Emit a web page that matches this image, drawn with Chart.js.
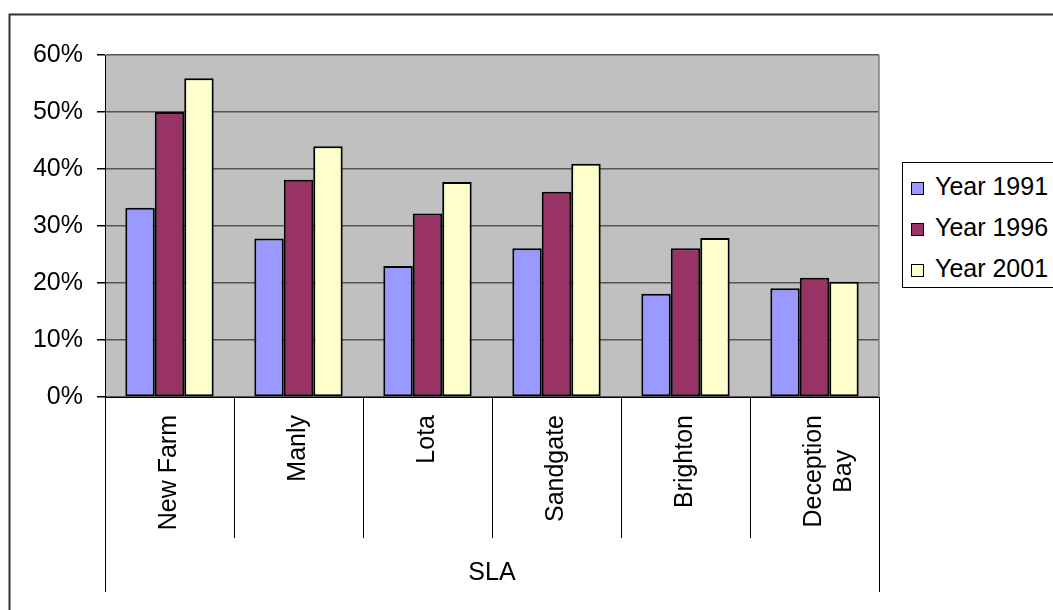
<!DOCTYPE html>
<html>
<head>
<meta charset="utf-8">
<title>SLA by year</title>
<script src="https://cdn.jsdelivr.net/npm/chart.js@4.4.1/dist/chart.umd.min.js"></script>
<style>
  html, body { margin: 0; padding: 0; background: #fff; }
  #wrap { position: relative; width: 1053px; height: 610px; overflow: hidden; }
  #chart { position: absolute; left: 0; top: 0; }
  #legend {
    position: absolute; left: 902px; top: 162px; width: 180px; height: 126px;
    border: 1px solid #000; box-sizing: border-box; background: #fff;
    font: 25px "Liberation Sans", Arial, sans-serif; color: #000;
  }
  #legend .item { position: absolute; left: 8px; height: 30px; display: flex; align-items: center; white-space: nowrap; }
  #legend .swatch { width: 11px; height: 11px; border: 1px solid #000; margin-right: 11px; position: relative; top: 2px; }
</style>
</head>
<body>
<div id="wrap">
  <canvas id="chart" width="1053" height="610"></canvas>
  <div id="legend"></div>
</div>
<script>
const FONT = '"Liberation Sans", Arial, sans-serif';

const categories = ["New Farm", "Manly", "Lota", "Sandgate", "Brighton", "Deception Bay"];
const seriesNames = ["Year 1991", "Year 1996", "Year 2001"];
const seriesColors = ["#9999ff", "#993366", "#ffffcc"];

const year1991 = [33.2, 27.8, 23.0, 26.1, 18.1, 19.1];
const year1996 = [50.0, 38.1, 32.2, 36.0, 26.1, 20.9];
const year2001 = [55.9, 44.0, 37.7, 40.9, 27.9, 20.2];

const yTickLabels = ["0%", "10%", "20%", "30%", "40%", "50%", "60%"];
const axisTitle = "SLA";

// long names go on two lines; trailing spaces keep "Bay" centred under "Deception"
function wrapLabel(name) {
  return name === "Deception Bay" ? ["Deception", "Bay     "] : name;
}

// grey plot area, outer frame and the category boxes under the axis
const framePlugin = {
  id: "frame",
  beforeDraw(chart) {
    const { ctx, chartArea: a } = chart;
    ctx.save();
    ctx.fillStyle = "#c0c0c0";
    ctx.fillRect(a.left, a.top, a.right - a.left, a.bottom - a.top);
    ctx.strokeStyle = "#333";
    ctx.lineWidth = 2;
    ctx.strokeRect(9.5, 14.5, 2000, 2000);
    ctx.restore();
  },
  afterDraw(chart) {
    const { ctx, chartArea: a } = chart;
    const x = chart.scales.x;
    const n = categories.length;
    const step = (x.right - x.left) / n;
    ctx.save();
    ctx.strokeStyle = "#808080";
    ctx.lineWidth = 1.5;
    ctx.beginPath();
    ctx.moveTo(a.right, a.top);
    ctx.lineTo(a.right, a.bottom);
    ctx.stroke();
    ctx.strokeStyle = "#000";
    ctx.lineWidth = 1;
    for (let i = 0; i <= n; i++) {
      const px = Math.round(x.left + i * step) + 0.5;
      const end = i === 0 || i === n ? 592 : 538;
      ctx.beginPath();
      ctx.moveTo(px, a.bottom);
      ctx.lineTo(px, end);
      ctx.stroke();
    }
    ctx.restore();
  },
};

const datasets = [year1991, year1996, year2001].map((values, i) => ({
  label: seriesNames[i],
  data: values,
  backgroundColor: seriesColors[i],
  borderColor: "#000",
  borderWidth: 2,
  borderSkipped: false,
  categoryPercentage: 0.685,
  barPercentage: 1.0,
}));

new Chart(document.getElementById("chart").getContext("2d"), {
  type: "bar",
  data: { labels: categories.map(wrapLabel), datasets },
  options: {
    responsive: false,
    animation: false,
    layout: { padding: { left: 0, top: 55, right: 174, bottom: 0 } },
    plugins: { legend: { display: false }, tooltip: { enabled: false } },
    scales: {
      x: {
        grid: { display: false, drawTicks: false },
        border: { display: true, color: "#000", width: 1 },
        ticks: {
          color: "#000",
          font: { family: FONT, size: 25 },
          minRotation: 90,
          maxRotation: 90,
          autoSkip: false,
          padding: 18,
        },
        title: {
          display: true,
          text: axisTitle,
          color: "#000",
          font: { family: FONT, size: 25 },
          padding: { top: 0, bottom: 22 },
        },
        afterFit(scale) { scale.height = 213; },
      },
      y: {
        min: 0,
        max: 60,
        grid: { color: "#555", lineWidth: 1.5, tickLength: 8, tickColor: "#000" },
        border: { display: true, color: "#000", width: 1 },
        ticks: {
          stepSize: 10,
          color: "#000",
          padding: 14,
          font: { family: FONT, size: 25 },
          callback: (v) => yTickLabels[v / 10],
        },
        afterFit(scale) { scale.width = 105; },
      },
    },
  },
  plugins: [framePlugin],
});

// legend box on the right, built from the same series lists
const legendNode = document.getElementById("legend");
seriesNames.forEach((name, i) => {
  const item = document.createElement("div");
  item.className = "item";
  item.style.top = (8 + i * 41) + "px";
  const swatch = document.createElement("span");
  swatch.className = "swatch";
  swatch.style.background = seriesColors[i];
  item.appendChild(swatch);
  item.appendChild(document.createTextNode(name));
  legendNode.appendChild(item);
});
</script>
</body>
</html>
